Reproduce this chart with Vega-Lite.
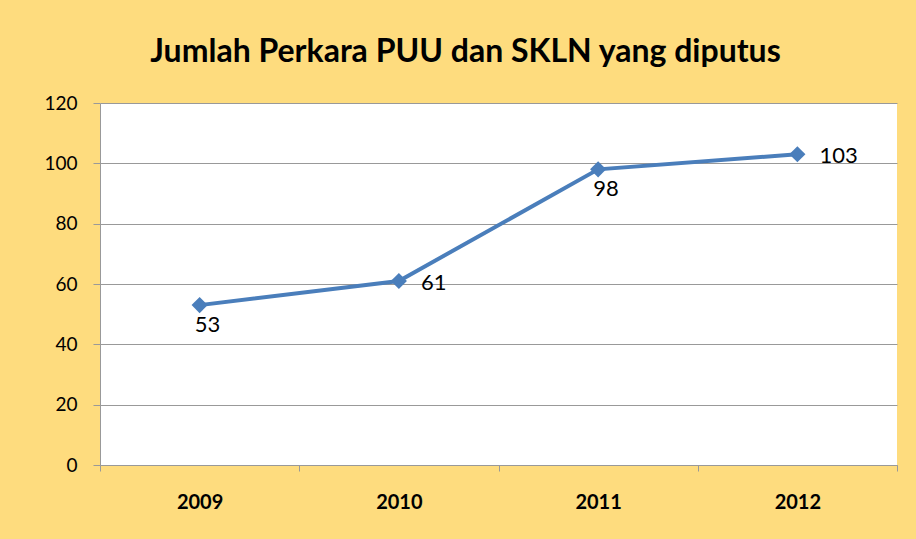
{
  "$schema": "https://vega.github.io/schema/vega-lite/v6.json",
  "width": 797,
  "height": 362,
  "autosize": {"type": "none"},
  "padding": {"left": 100, "top": 103, "right": 19, "bottom": 74},
  "background": "#FEDC7E",
  "config": {"view": {"fill": "white", "stroke": null}, "font": "Lato"},
  "title": {
    "text": "Jumlah Perkara PUU dan SKLN yang diputus",
    "fontSize": 32,
    "font": "Lato",
    "fontWeight": "bold",
    "color": "#000000",
    "anchor": "middle",
    "frame": "group",
    "dx": -33,
    "offset": 25
  },
  "data": {
    "values": [
      {"tahun": "2009", "jumlah": 53},
      {"tahun": "2010", "jumlah": 61},
      {"tahun": "2011", "jumlah": 98},
      {"tahun": "2012", "jumlah": 103}
    ]
  },
  "encoding": {
    "x": {
      "field": "tahun",
      "type": "ordinal",
      "bandPosition": 0.5,
      "scale": {"type": "band", "paddingInner": 0, "paddingOuter": 0},
      "axis": {
        "title": null,
        "labelAngle": 0,
        "labelFontSize": 20,
        "labelFontWeight": "bold",
        "labelColor": "#000000",
        "labelPadding": 21,
        "tickBand": "extent",
        "tickSize": 6,
        "tickColor": "#999999",
        "domainColor": "#999999",
        "grid": false
      }
    },
    "y": {
      "field": "jumlah",
      "type": "quantitative",
      "scale": {"domain": [0, 120], "nice": false},
      "axis": {
        "title": null,
        "values": [0, 20, 40, 60, 80, 100, 120],
        "grid": true,
        "gridColor": "#999999",
        "domainColor": "#999999",
        "tickColor": "#999999",
        "tickSize": 7,
        "labelFontSize": 19,
        "labelColor": "#000000",
        "labelPadding": 16
      }
    }
  },
  "layer": [
    {
      "mark": {
        "type": "line",
        "color": "#4A7EBB",
        "strokeWidth": 4,
        "point": {"shape": "diamond", "size": 260, "filled": true, "color": "#4A7EBB", "opacity": 1}
      }
    },
    {
      "transform": [{"filter": "datum.tahun == '2009' || datum.tahun == '2011'"}],
      "mark": {"type": "text", "fontSize": 22, "color": "#000000", "align": "center", "baseline": "top", "dy": 10, "dx": 8},
      "encoding": {"text": {"field": "jumlah", "type": "quantitative"}}
    },
    {
      "transform": [{"filter": "datum.tahun == '2010' || datum.tahun == '2012'"}],
      "mark": {"type": "text", "fontSize": 22, "color": "#000000", "align": "left", "baseline": "middle", "dx": 22, "dy": 2},
      "encoding": {"text": {"field": "jumlah", "type": "quantitative"}}
    }
  ]
}
